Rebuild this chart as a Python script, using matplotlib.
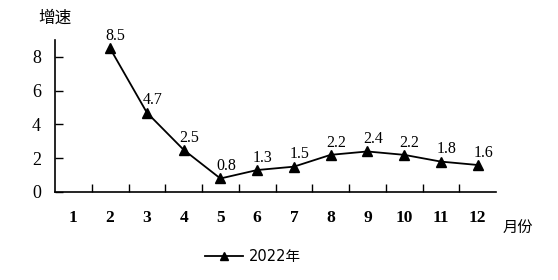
import matplotlib
matplotlib.use("Agg")
import matplotlib.pyplot as plt
from matplotlib.lines import Line2D

months = [1, 2, 3, 4, 5, 6, 7, 8, 9, 10, 11, 12]
data_months = [2, 3, 4, 5, 6, 7, 8, 9, 10, 11, 12]
values = [8.5, 4.7, 2.5, 0.8, 1.3, 1.5, 2.2, 2.4, 2.2, 1.8, 1.6]
yticks = [0, 2, 4, 6, 8]
series_name = "2022年"

plt.rcParams['font.family'] = ['Liberation Serif', 'Noto Sans CJK SC']
fig = plt.figure(figsize=(5.58, 2.80), dpi=100)
ax = fig.add_axes([55/558, 1-192/280, (496-55)/558, (192-40)/280])

ax.plot(data_months, values, color='black', lw=1.3, marker='^', ms=6.5, label=series_name)
for m, v in zip(data_months, values):
    ax.annotate(f"{v}", (m, v), xytext=(4, 3), textcoords='offset points',
                ha='center', va='bottom', fontsize=11.5, family='Liberation Serif')

ax.set_xlim(0.5, 12.5)
ax.set_ylim(0, 9)
ax.set_yticks(yticks)
ax.set_yticklabels([str(t) for t in yticks], fontsize=13, family='Liberation Serif')
ax.set_xticks(months)
ax.set_xticklabels([str(m) for m in months], fontsize=12.5, fontweight='bold', family='Liberation Serif')
ax.set_xticks([m + 0.5 for m in months[:-1]], minor=True)
ax.tick_params(axis='x', which='major', length=0, pad=13)
ax.tick_params(axis='x', which='minor', direction='in', length=6, width=1)
ax.tick_params(axis='y', direction='in', length=6, width=1, pad=10)
for s in ['top', 'right']:
    ax.spines[s].set_visible(False)
for s in ['left', 'bottom']:
    ax.spines[s].set_linewidth(1.2)

fig.text(55/558, 1-18/280, "增速", ha='center', va='center', fontsize=12, family='Noto Sans CJK SC')
fig.text(518/558, 1-228/280, "月份", ha='center', va='center', fontsize=11, family='Noto Sans CJK SC')

handle = Line2D([], [], color='black', lw=1.3, marker='^', ms=6)
fig.legend([handle], [series_name], loc='center', bbox_to_anchor=(253/558, 1-257/280),
           frameon=False, prop={'family': ['DejaVu Sans', 'Noto Sans CJK SC'], 'size': 10.5},
           handlelength=2.6, handletextpad=0.4)

fig.savefig("out.png", dpi=100)
